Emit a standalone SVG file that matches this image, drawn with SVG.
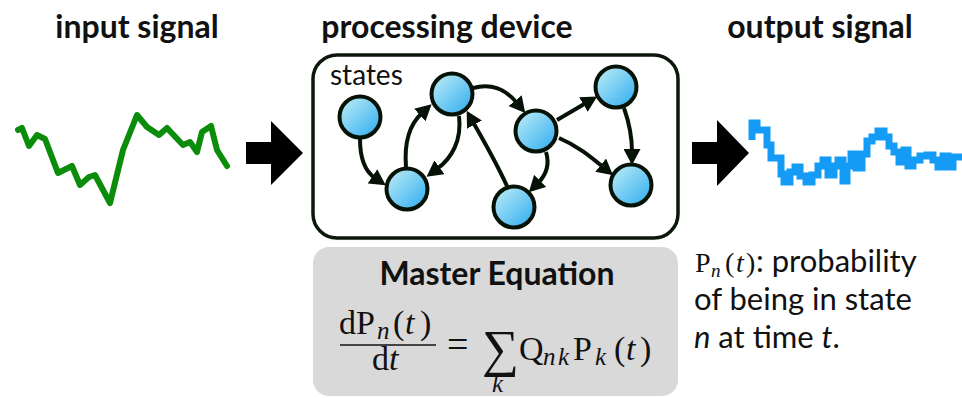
<svg xmlns="http://www.w3.org/2000/svg" width="962" height="398" viewBox="0 0 962 398">
<defs>
<linearGradient id="nodeGrad" x1="0" y1="0" x2="1" y2="1">
<stop offset="0" stop-color="#c4f0f6"/>
<stop offset="1" stop-color="#2aaaf0"/>
</linearGradient>
<marker id="arr" markerUnits="userSpaceOnUse" markerWidth="17" markerHeight="17" refX="3" refY="8.5" orient="auto" viewBox="0 0 17 17">
<path d="M0,0 L16,8.5 L0,17 z" fill="#061206"/>
</marker>
<style>
.title{font-family:Lato,"Liberation Sans",sans-serif;font-weight:bold;font-size:32px;fill:#111;text-anchor:middle}
.lbl{font-family:Lato,"Liberation Sans",sans-serif;font-size:31px;fill:#111}
.m{font-family:"Liberation Serif",serif;font-size:34px;fill:#111}
.ms{font-family:"Liberation Serif",serif;font-size:25px;font-style:italic;fill:#111}
.it{font-style:italic}
.node circle{fill:url(#nodeGrad);stroke:#061206;stroke-width:4}
.edge{fill:none;stroke:#061206;stroke-width:4;marker-end:url(#arr)}
</style>
</defs>
<rect width="962" height="398" fill="#fff"/>

<g id="titles">
<text class="title" x="137" y="38">input signal</text>
<text class="title" x="447" y="38">processing device</text>
<text class="title" x="820" y="38">output signal</text>
</g>

<g id="input-signal">
<polyline fill="none" stroke="#0b8c0b" stroke-width="6" stroke-linejoin="round" stroke-linecap="round" points="18,130 22,128 29,146 37,135 45,139 58,173 72,166 80,185 89,177 95,175 110,203 123,150 137,115 147,127 159,135 167,128 183,145 190,142 197,152 202,132 211,126 217,150 227,166"/>
</g>

<g id="arrow-in">
<polygon points="246,142 271,142 271,121 303,153 271,185 271,164 246,164" fill="#000"/>
</g>

<g id="processing-device">
<rect x="313" y="55" width="365" height="183" rx="24" fill="#fff" stroke="#0c180c" stroke-width="3.5"/>
<text class="lbl" x="330" y="85" style="font-size:28px">states</text>
</g>

<g id="connectors">
<path class="edge" d="M360,139 C360,160 366,172 375,178"/>
<path class="edge" d="M406,167 C404,142 410,124 422,113"/>
<path class="edge" d="M459,116 C462,140 452,158 437,169"/>
<path class="edge" d="M507,186 C495,160 482,138 473,122"/>
<path class="edge" d="M473,88 C495,82 508,92 517,103"/>
<path class="edge" d="M546,152 C550,165 546,175 538,183"/>
<path class="edge" d="M557,120 L586,103"/>
<path class="edge" d="M559,138 C578,146 592,158 603,167"/>
<path class="edge" d="M624,108 C630,125 632,140 632,152"/>
</g>

<g id="node-states" class="node"><circle cx="360" cy="117" r="20.5"/></g>
<g id="node-top-mid" class="node"><circle cx="452" cy="94" r="20.5"/></g>
<g id="node-low-left" class="node"><circle cx="407" cy="189" r="20.5"/></g>
<g id="node-right-mid" class="node"><circle cx="536" cy="131" r="20.5"/></g>
<g id="node-bottom" class="node"><circle cx="514" cy="207" r="20.5"/></g>
<g id="node-top-right" class="node"><circle cx="616" cy="87" r="20.5"/></g>
<g id="node-bottom-right" class="node"><circle cx="631" cy="185" r="20.5"/></g>

<g id="arrow-out">
<polygon points="692,142 717,142 717,120 749,153 717,186 717,164 692,164" fill="#000"/>
</g>

<g id="output-signal">
<path fill="none" stroke="#149bf5" stroke-width="7" stroke-linejoin="miter" d="M752,140 V123 H757 V130 H767 V145 H771 V158 H781 V174 H784 V182 H790 V172 H795 V167 H800 V176 H806 V182 H812 V175 H818 V166 H823 V160 H828 V175 H834 V166 H838 V160 H843 V181 H847 V166 H851 V154 H856 V168 H862 V154 H867 V141 H872 V137 H878 V131 H884 V137 H889 V146 H894 V152 H899 V162 H904 V150 H908 V166 H913 V160 H920 V156 H927 V155 H933 V160 H938 V167 H943 V156 H948 V167 H953 V157 H962"/>
</g>

<g id="master-equation">
<rect x="313" y="247" width="365" height="149" rx="16" fill="#d9d9d9"/>
<text class="title" x="497" y="285">Master Equation</text>
<text class="m" x="339" y="334">d</text>
<text class="m" x="356" y="334">P</text>
<text class="ms" x="377" y="339">n</text>
<text class="m" x="393" y="334">(</text>
<text class="m it" x="405" y="334">t</text>
<text class="m" x="420" y="334">)</text>
<line x1="340" y1="345" x2="436" y2="345" stroke="#111" stroke-width="1.6"/>
<text class="m" x="372" y="370">d</text>
<text class="m it" x="389" y="370">t</text>
<text class="m" x="447" y="357" style="font-size:38px">=</text>
<text class="m" x="482" y="366" style="font-size:52px">∑</text>
<text class="ms" x="492" y="392">k</text>
<text class="m" x="519" y="360">Q</text>
<text class="ms" x="543" y="365">n</text>
<text class="ms" x="558" y="365">k</text>
<text class="m" x="573" y="360">P</text>
<text class="ms" x="595" y="365">k</text>
<text class="m" x="614" y="360">(</text>
<text class="m it" x="626" y="360">t</text>
<text class="m" x="640" y="360">)</text>
</g>

<g id="caption">
<text class="m" x="695" y="272" style="font-size:28px">P</text>
<text class="ms" x="711" y="277" style="font-size:19px">n</text>
<text class="m" x="725" y="272" style="font-size:28px">(</text>
<text class="m it" x="736" y="272" style="font-size:28px">t</text>
<text class="m" x="746" y="272" style="font-size:28px">)</text>
<text class="lbl" x="756" y="272">: probability</text>
<text class="lbl" x="694" y="310">of being in state</text>
<text class="lbl" x="694" y="348"><tspan class="it">n</tspan> at time <tspan class="it">t</tspan>.</text>
</g>
</svg>
